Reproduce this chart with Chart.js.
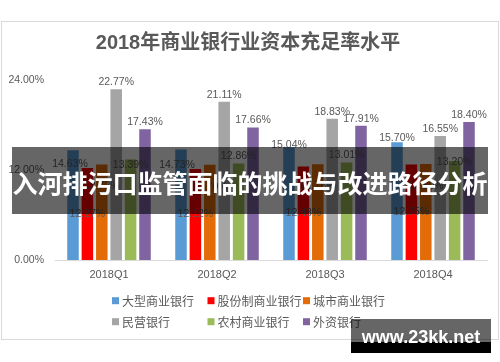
<!DOCTYPE html>
<html lang="zh-CN">
<head>
    <meta charset="UTF-8">
    <title>2018年商业银行业资本充足率水平</title>
    <script src="https://cdn.jsdelivr.net/npm/chart.js"></script>
    <style>
        html, body { margin: 0; padding: 0; background: #fff; }
        body { width: 500px; height: 362px; position: relative; overflow: hidden; }
        .chart-box {
            position: absolute; left: 1px; top: 21px;
            width: 498px; height: 319px;
            border: 1px solid #d9d9d9; box-sizing: border-box;
        }
        .banner {
            position: absolute; left: 12px; top: 147px; width: 476px; height: 67px;
            background: rgba(0, 0, 0, 0.6); color: #fff;
            font: bold 25px "Noto Sans CJK SC", sans-serif;
            line-height: 67px; text-align: center; white-space: nowrap;
        }
        .banner span { position: relative; top: 2px; }
        .mark-top {
            position: absolute; left: 351px; top: 319px; width: 140px; height: 23px;
            background: rgba(0, 0, 0, 0.6);
        }
        .mark-bottom {
            position: absolute; left: 351px; top: 342px; width: 140px; height: 11px;
            background: #000;
        }
        .mark-text {
            position: absolute; left: 351px; top: 324px; width: 140px; height: 26px;
            color: #fff; font: bold 18px "Liberation Sans", Arial, sans-serif;
            line-height: 26px; text-align: center;
        }
    </style>
</head>
<body>
    <div class="chart-box">
        <canvas id="capitalChart"></canvas>
    </div>

    <!-- overlay text from the picture -->
    <div class="banner"><span>入河排污口监管面临的挑战与改进路径分析</span></div>
    <div class="mark-top"></div>
    <div class="mark-bottom"></div>
    <div class="mark-text">www.23kk.net</div>

    <script>
        // Datos
        const quarters = ['2018Q1', '2018Q2', '2018Q3', '2018Q4'];
        const bankTypes = ['大型商业银行', '股份制商业银行', '城市商业银行', '民营银行', '农村商业银行', '外资银行'];
        const largeBanks = [14.63, 14.73, 15.04, 15.70];
        const jointStockBanks = [12.27, 12.12, 12.48, 12.75];
        const cityBanks = [12.72, 12.70, 12.76, 12.80];
        const privateBanks = [22.77, 21.11, 18.83, 16.55];
        const ruralBanks = [13.39, 12.86, 13.01, 13.20];
        const foreignBanks = [17.43, 17.66, 17.91, 18.40];
        const yTicks = [0, 12, 24];

        const seriesValues = [largeBanks, jointStockBanks, cityBanks, privateBanks, ruralBanks, foreignBanks];
        const seriesColors = ['#5B9BD5', '#FF0000', '#E36C09', '#A5A5A5', '#9BBB59', '#8064A2'];
        // where each series puts its value label, and small hand moves like in the picture
        const labelSpots = ['above', 'center', 'inside', 'above', 'above', 'above'];
        const labelNudges = [
            [[-3, 21], [-4, 23], [0, 5], [0, 3]],
            null, null, null,
            [[0, 13], [0, 0], [0, 0], [0, 8]],
            null
        ];

        const textGray = '#595959';
        const latinFont = '"Liberation Sans", Arial, sans-serif';
        const cjkFont = '"Noto Sans CJK SC", sans-serif';

        // etiquetas de valor sobre las barras
        const barLabels = {
            id: 'barLabels',
            afterDatasetsDraw(chart) {
                const ctx = chart.ctx;
                ctx.save();
                ctx.font = '10.5px ' + latinFont;
                ctx.fillStyle = textGray;
                ctx.textAlign = 'center';
                ctx.textBaseline = 'middle';
                chart.data.datasets.forEach((ds, i) => {
                    chart.getDatasetMeta(i).data.forEach((bar, j) => {
                        let x = bar.x;
                        let y = bar.y - 7;
                        if (labelSpots[i] === 'center') y = (bar.y + bar.base) / 2;
                        if (labelSpots[i] === 'inside') y = bar.y + 22;
                        const n = labelNudges[i] && labelNudges[i][j];
                        if (n) { x += n[0]; y += n[1]; }
                        ctx.fillText(ds.data[j].toFixed(2) + '%', x, y);
                    });
                });
                ctx.restore();
            }
        };

        // leyenda en rejilla de 3 columnas
        const gridLegend = {
            id: 'gridLegend',
            afterDraw(chart) {
                const ctx = chart.ctx;
                const colW = 95.5, rowH = 21, box = 7;
                const x0 = chart.width / 2 - 138;
                const y0 = chart.chartArea.bottom + 40.7;
                ctx.save();
                ctx.font = '12px ' + cjkFont;
                ctx.textBaseline = 'middle';
                ctx.textAlign = 'left';
                chart.data.datasets.forEach((ds, i) => {
                    const x = x0 + (i % 3) * colW;
                    const y = y0 + Math.floor(i / 3) * rowH;
                    ctx.fillStyle = ds.backgroundColor;
                    ctx.fillRect(x, y - box / 2, box, box);
                    ctx.fillStyle = textGray;
                    ctx.fillText(ds.label, x + 10, y + 0.5);
                });
                ctx.restore();
            }
        };

        const ctx = document.getElementById('capitalChart').getContext('2d');
        const capitalChart = new Chart(ctx, {
            type: 'bar',
            data: {
                labels: quarters,
                datasets: bankTypes.map((name, i) => ({
                    label: name,
                    data: seriesValues[i],
                    backgroundColor: seriesColors[i],
                    borderWidth: 0,
                    categoryPercentage: 0.8,
                    barPercentage: 0.8
                }))
            },
            options: {
                responsive: true,
                maintainAspectRatio: false,
                animation: false,
                devicePixelRatio: 1,
                layout: { padding: { left: 7, right: 11, top: 0, bottom: 55 } },
                plugins: {
                    legend: { display: false },
                    tooltip: { enabled: false },
                    title: {
                        display: true,
                        text: '2018年商业银行业资本充足率水平',
                        color: textGray,
                        font: { family: '"Liberation Sans", "Noto Sans CJK SC", sans-serif', size: 20, weight: 'bold' },
                        padding: { top: 9, bottom: 25 }
                    }
                },
                scales: {
                    x: {
                        grid: { display: false, drawTicks: false },
                        border: { display: true, color: '#d9d9d9', width: 1 },
                        ticks: { color: textGray, font: { family: latinFont, size: 11 }, padding: 8 },
                        afterFit: s => { s.height = 24; }
                    },
                    y: {
                        min: 0,
                        max: 24,
                        grid: { display: false, drawTicks: false },
                        border: { display: false },
                        afterBuildTicks: s => { s.ticks = yTicks.map(v => ({ value: v })); },
                        ticks: {
                            color: textGray,
                            font: { family: latinFont, size: 10.5 },
                            padding: 11,
                            callback: v => v.toFixed(2) + '%'
                        },
                        afterFit: s => { s.width = 46; }
                    }
                }
            },
            plugins: [barLabels, gridLegend]
        });
    </script>
</body>
</html>
